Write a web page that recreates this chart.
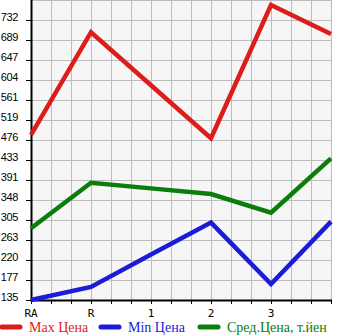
<!DOCTYPE html>
<html>
<head>
<meta charset="utf-8">
<script src="https://cdn.jsdelivr.net/npm/d3@7"></script>
<style>
  body { margin: 0; background: #fff; }
  svg { display: block; }
</style>
</head>
<body>
<div id="chart"></div>
<script>
let categories = ['RA', 'R', '1', '2', '3', '']
let maxPrice = [487, 706, 593, 480, 764, 702]
let minPrice = [135, 163, 232, 300, 169, 302]
let avgPrice = [288, 385, 373, 361, 321, 437]
let yTicks = [135, 177, 220, 263, 305, 348, 391, 433, 476, 519, 561, 604, 647, 689, 732]
let legendNames = ['Max Цена', 'Min Цена', 'Сред.Цена, т.йен']
let colors = ['#dd1c1c', '#1c1cd8', '#0b7d0b']

let width = 345
let height = 335
let margin = { top: 0, left: 31, right: 14, bottom: 35 }

let svg = d3
  .select('#chart')
  .append('svg')
  .attr('width', width)
  .attr('height', height)

let x = d3
  .scaleLinear()
  .domain([0, categories.length - 1])
  .range([margin.left, width - margin.right])

let step = (yTicks[yTicks.length - 1] - yTicks[0]) / (yTicks.length - 1)
let y = d3
  .scaleLinear()
  .domain([yTicks[0], yTicks[yTicks.length - 1] + step])
  .range([height - margin.bottom, margin.top])

let plot = svg.append('g')

plot
  .append('rect')
  .attr('x', x(0))
  .attr('y', y.range()[1])
  .attr('width', x(categories.length - 1) - x(0))
  .attr('height', y.range()[0] - y.range()[1])
  .attr('fill', '#f6f6f6')

// grid: three vertical lines per category step
let vGrid = d3.range(0, categories.length - 1 + 0.001, 1 / 3)
plot
  .selectAll('.vgrid')
  .data(vGrid)
  .enter()
  .append('line')
  .attr('class', 'vgrid')
  .attr('x1', d => Math.round(x(d)) + 0.5)
  .attr('x2', d => Math.round(x(d)) + 0.5)
  .attr('y1', y.range()[1])
  .attr('y2', y.range()[0])
  .attr('stroke', '#bdbdbd')
  .attr('stroke-width', 1)

let hGrid = d3.range(0, yTicks.length + 1).map(i => yTicks[0] + i * step)
plot
  .selectAll('.hgrid')
  .data(hGrid)
  .enter()
  .append('line')
  .attr('class', 'hgrid')
  .attr('x1', x(0))
  .attr('x2', x(categories.length - 1))
  .attr('y1', d => Math.round(y(d)) + 0.5)
  .attr('y2', d => Math.round(y(d)) + 0.5)
  .attr('stroke', '#bdbdbd')
  .attr('stroke-width', 1)

// axes
let yAxis = svg.append('g')
yAxis
  .selectAll('.ytick')
  .data(yTicks)
  .enter()
  .append('line')
  .attr('x1', x(0) - 5)
  .attr('x2', x(0))
  .attr('y1', d => Math.round(y(d)) + 0.5)
  .attr('y2', d => Math.round(y(d)) + 0.5)
  .attr('stroke', '#000')
yAxis
  .selectAll('.ylabel')
  .data(yTicks)
  .enter()
  .append('text')
  .text(d => d)
  .attr('x', 18)
  .attr('y', d => y(d) - 3)
  .attr('dy', '0.35em')
  .attr('text-anchor', 'end')
  .attr('font-family', 'Liberation Sans, Arial, sans-serif')
  .attr('font-size', 11)
  .attr('fill', '#000')
  .attr('style', 'letter-spacing:-0.4px')

let xAxis = svg.append('g')
xAxis
  .selectAll('.xtick')
  .data(vGrid)
  .enter()
  .append('line')
  .attr('x1', d => Math.round(x(d)) + 0.5)
  .attr('x2', d => Math.round(x(d)) + 0.5)
  .attr('y1', y.range()[0])
  .attr('y2', y.range()[0] + 4)
  .attr('stroke', '#000')
xAxis
  .selectAll('.xlabel')
  .data(categories)
  .enter()
  .append('text')
  .text(d => d)
  .attr('x', (d, i) => x(i))
  .attr('y', y.range()[0] + 17)
  .attr('text-anchor', 'middle')
  .attr('font-family', 'DejaVu Sans Mono, monospace')
  .attr('font-size', 11)
  .attr('fill', '#000')

svg
  .append('line')
  .attr('x1', x(0) + 0.5)
  .attr('x2', x(0) + 0.5)
  .attr('y1', y.range()[1])
  .attr('y2', y.range()[0] + 1)
  .attr('stroke', '#000')
  .attr('stroke-width', 2)
svg
  .append('line')
  .attr('x1', x(0) - 0.5)
  .attr('x2', x(categories.length - 1) + 1)
  .attr('y1', y.range()[0] + 0.5)
  .attr('y2', y.range()[0] + 0.5)
  .attr('stroke', '#000')
  .attr('stroke-width', 2)

// lines
let line = d3
  .line()
  .x((d, i) => x(i))
  .y(d => y(d))

let series = [maxPrice, minPrice, avgPrice]
svg
  .selectAll('.series')
  .data(series)
  .enter()
  .append('path')
  .attr('class', 'series')
  .attr('d', line)
  .attr('fill', 'none')
  .attr('stroke', (d, i) => colors[i])
  .attr('stroke-width', 4.5)
  .attr('stroke-linejoin', 'miter')

// legend
let legendX = [0, 99, 198]
let legend = svg
  .selectAll('.legend-entry')
  .data(legendNames)
  .enter()
  .append('g')
  .attr('class', 'legend-entry')
  .attr('transform', (d, i) => `translate(${legendX[i]},327)`)

legend
  .append('line')
  .attr('x1', 2)
  .attr('x2', 20)
  .attr('y1', 0)
  .attr('y2', 0)
  .attr('stroke', (d, i) => colors[i])
  .attr('stroke-width', 5)
  .attr('stroke-linecap', 'round')

legend
  .append('text')
  .text(d => d)
  .attr('x', 29)
  .attr('y', 0)
  .attr('dy', '0.35em')
  .attr('font-family', 'Liberation Serif, serif')
  .attr('font-size', 14)
  .attr('fill', (d, i) => colors[i])
</script>
</body>
</html>
